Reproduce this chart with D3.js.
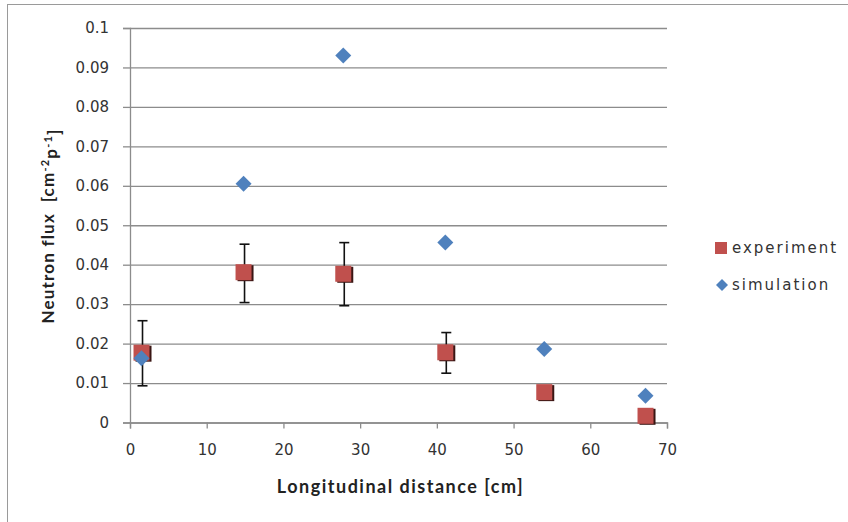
<!DOCTYPE html>
<html>
<head>
<meta charset="utf-8">
<script src="https://cdn.jsdelivr.net/npm/d3@7"></script>
<style>
  body { margin: 0; background: #fff; }
  svg { display: block; }
</style>
</head>
<body>
<div class="svgContainer"></div>
<script>
// values
let distance = [1.5, 14.8, 27.8, 41.1, 54.0, 67.2];
let experiment = [0.0177, 0.0381, 0.0377, 0.0178, 0.0077, 0.0017];
let errLow = [0.0093, 0.0304, 0.0296, 0.0125, 0.0070, 0.0010];
let errHigh = [0.0258, 0.0452, 0.0456, 0.0228, 0.0084, 0.0024];
let simulation = [0.0163, 0.0605, 0.0930, 0.0456, 0.0186, 0.0068];

let xTicks = [0, 10, 20, 30, 40, 50, 60, 70];
let yTicks = [0, 0.01, 0.02, 0.03, 0.04, 0.05, 0.06, 0.07, 0.08, 0.09, 0.1];
let yTickLabels = ["0", "0.01", "0.02", "0.03", "0.04", "0.05", "0.06", "0.07", "0.08", "0.09", "0.1"];
let seriesNames = ["experiment", "simulation"];

let w = 848;
let h = 522;
let padLeft = 130, padRight = 667, padTop = 28, padBottom = 422.5;

let red = "#C0504D";
let blue = "#4F81BD";
let grid = "#8c8c8c";

let xScale = d3.scaleLinear().domain([0, 70]).range([padLeft, padRight]);
let yScale = d3.scaleLinear().domain([0, 0.1]).range([padBottom, padTop]);

const svg = d3.select(".svgContainer")
    .append("svg")
    .attr("width", w)
    .attr("height", h)
    .style("font-family", "'DejaVu Sans', Verdana, sans-serif");

// chart frame (only left and top edges are visible in the picture)
svg.append("rect")
    .attr("x", 7.5).attr("y", 4.5)
    .attr("width", 1000).attr("height", 1000)
    .attr("fill", "none")
    .attr("stroke", "#9a9a9a");

// horizontal gridlines
svg.append("g")
    .attr("transform", `translate(${padLeft},0)`)
    .call(d3.axisLeft(yScale).tickValues(yTicks).tickSize(-(padRight - padLeft)).tickFormat(""))
    .call(g => g.select(".domain").remove())
    .call(g => g.selectAll("line").attr("stroke", grid).attr("stroke-width", 1.3));

// y axis
svg.append("g")
    .attr("id", "y-axis")
    .attr("transform", `translate(${padLeft},0)`)
    .call(d3.axisLeft(yScale).tickValues(yTicks).tickSize(7).tickPadding(14)
        .tickFormat((d, i) => yTickLabels[i]))
    .call(g => g.select(".domain").attr("stroke", grid).attr("stroke-width", 1.3))
    .call(g => g.selectAll("line").attr("stroke", grid).attr("stroke-width", 1.3))
    .call(g => g.selectAll("text").attr("fill", "#333").style("font-size", "15px")
        .style("font-family", "'DejaVu Sans', Verdana, sans-serif"));

// x axis
svg.append("g")
    .attr("id", "x-axis")
    .attr("transform", `translate(0,${padBottom})`)
    .call(d3.axisBottom(xScale).tickValues(xTicks).tickSize(6).tickPadding(16))
    .call(g => g.select(".domain").attr("stroke", grid).attr("stroke-width", 1.3))
    .call(g => g.selectAll("line").attr("stroke", grid).attr("stroke-width", 1.3))
    .call(g => g.selectAll("text").attr("fill", "#333").style("font-size", "15px")
        .style("font-family", "'DejaVu Sans', Verdana, sans-serif"));

// error bars
let errs = svg.append("g").attr("class", "errors");
experiment.forEach((v, i) => {
    let cx = xScale(distance[i]) + 1;
    errs.append("line")
        .attr("x1", cx).attr("x2", cx)
        .attr("y1", yScale(errLow[i])).attr("y2", yScale(errHigh[i]))
        .attr("stroke", "#111").attr("stroke-width", 1.6);
    [errLow[i], errHigh[i]].forEach(e => {
        errs.append("line")
            .attr("x1", cx - 5).attr("x2", cx + 5)
            .attr("y1", yScale(e)).attr("y2", yScale(e))
            .attr("stroke", "#111").attr("stroke-width", 1.6);
    });
});

// experiment squares (with small dark shadow on the right)
let sq = 16;
svg.selectAll(".expShadow")
    .data(experiment)
    .enter()
    .append("rect")
    .attr("class", "expShadow")
    .attr("x", (d, i) => xScale(distance[i]) - sq / 2 + 2)
    .attr("y", d => yScale(d) - sq / 2 + 1)
    .attr("width", sq).attr("height", sq)
    .attr("fill", "#3a1614");

svg.selectAll(".expBar")
    .data(experiment)
    .enter()
    .append("rect")
    .attr("class", "expBar")
    .attr("x", (d, i) => xScale(distance[i]) - sq / 2)
    .attr("y", d => yScale(d) - sq / 2)
    .attr("width", sq).attr("height", sq)
    .attr("fill", red);

// simulation diamonds
let dm = 8;
let diamond = `M0,${-dm}L${dm},0L0,${dm}L${-dm},0Z`;
svg.selectAll(".simPoint")
    .data(simulation)
    .enter()
    .append("path")
    .attr("class", "simPoint")
    .attr("d", diamond)
    .attr("transform", (d, i) => `translate(${xScale(distance[i])},${yScale(d)})`)
    .attr("fill", blue);

// legend
let legend = svg.append("g").attr("transform", "translate(715,0)");
let legendY = [248, 285];
legend.append("rect")
    .attr("x", 0).attr("y", legendY[0] - 6)
    .attr("width", 12).attr("height", 12)
    .attr("fill", red);
legend.append("path")
    .attr("d", "M0,-6L6,0L0,6L-6,0Z")
    .attr("transform", `translate(7,${legendY[1]})`)
    .attr("fill", blue);
legend.selectAll(".legText")
    .data(seriesNames)
    .enter()
    .append("text")
    .attr("class", "legText")
    .attr("x", 17)
    .attr("y", (d, i) => legendY[i])
    .attr("dy", "0.36em")
    .attr("fill", "#333")
    .style("font-size", "15px")
    .style("letter-spacing", "2px")
    .text(d => d);

// axis titles
svg.append("text")
    .attr("x", (padLeft + padRight) / 2 + 2)
    .attr("y", 487)
    .attr("dy", "0.36em")
    .attr("text-anchor", "middle")
    .attr("fill", "#222")
    .style("font-family", "Lato, sans-serif")
    .style("font-weight", "bold")
    .style("font-size", "18px")
    .style("letter-spacing", "1.5px")
    .text("Longitudinal distance [cm]");

let yTitle = svg.append("text")
    .attr("transform", "translate(48,226) rotate(-90)")
    .attr("text-anchor", "middle")
    .attr("dy", "0.36em")
    .attr("fill", "#222")
    .style("font-family", "Lato, sans-serif")
    .style("font-weight", "bold")
    .style("font-size", "17px")
    .style("letter-spacing", "1.2px")
    .style("white-space", "pre");
yTitle.append("tspan").text("Neutron flux  [cm");
yTitle.append("tspan").attr("dy", "-0.45em").style("font-size", "11px").text("-2");
yTitle.append("tspan").attr("dy", "0.45em").text("p");
yTitle.append("tspan").attr("dy", "-0.45em").style("font-size", "11px").text("-1");
yTitle.append("tspan").attr("dy", "0.45em").text("]");
</script>
</body>
</html>
